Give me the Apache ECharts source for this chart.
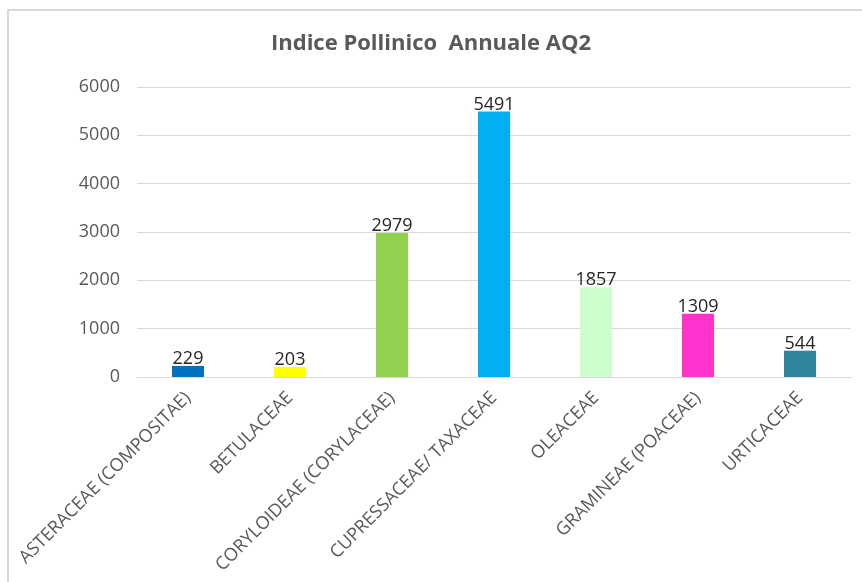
<!DOCTYPE html>
<html>
<head>
<meta charset="utf-8">
<script src="https://cdn.jsdelivr.net/npm/echarts@6/dist/echarts.min.js"></script>
<style>
  html, body { margin: 0; padding: 0; background: #fff; }
  #chart { width: 862px; height: 582px; }
</style>
</head>
<body>
<div id="chart"></div>
<script>
const categories = [
  'ASTERACEAE (COMPOSITAE)',
  'BETULACEAE',
  'CORYLOIDEAE (CORYLACEAE)',
  'CUPRESSACEAE/ TAXACEAE',
  'OLEACEAE',
  'GRAMINEAE (POACEAE)',
  'URTICACEAE'
]
const values = [229, 203, 2979, 5491, 1857, 1309, 544]
const barColors = ['#0070C0', '#FFFF00', '#92D050', '#00B0F0', '#CCFFCC', '#FF33CC', '#31859C']

const chart = echarts.init(document.getElementById('chart'))
const font = '"Open Sans", "Liberation Sans", sans-serif'

const option = {
  animation: false,
  textStyle: { fontFamily: font },
  title: {
    text: 'Indice Pollinico  Annuale AQ2',
    left: 'center',
    top: 28,
    textStyle: { color: '#595959', fontSize: 22, fontWeight: 'bold', fontFamily: font }
  },
  graphic: [
    {
      type: 'rect',
      shape: { x: 8, y: 10, width: 900, height: 700 },
      style: { fill: 'none', stroke: '#d9d9d9', lineWidth: 2 },
      silent: true
    }
  ],
  grid: { left: 137, right: 11, top: 87, bottom: 205 },
  xAxis: {
    type: 'category',
    data: categories,
    axisLine: { lineStyle: { color: '#d9d9d9' } },
    axisTick: { show: false },
    axisLabel: { rotate: 45, color: '#595959', fontSize: 18, margin: 18, interval: 0 }
  },
  yAxis: {
    type: 'value',
    min: 0,
    max: 6000,
    interval: 1000,
    axisLine: { show: false },
    axisTick: { show: false },
    axisLabel: { color: '#595959', fontSize: 18, margin: 17, formatter: v => String(v) },
    splitLine: { lineStyle: { color: '#d9d9d9' } }
  },
  series: [
    {
      type: 'bar',
      barWidth: 32,
      data: values.map((v, i) => ({ value: v, itemStyle: { color: barColors[i] } })),
      label: {
        show: true,
        position: 'top',
        distance: -2,
        color: '#262626',
        fontSize: 18
      }
    }
  ]
}

chart.setOption(option)
</script>
</body>
</html>
